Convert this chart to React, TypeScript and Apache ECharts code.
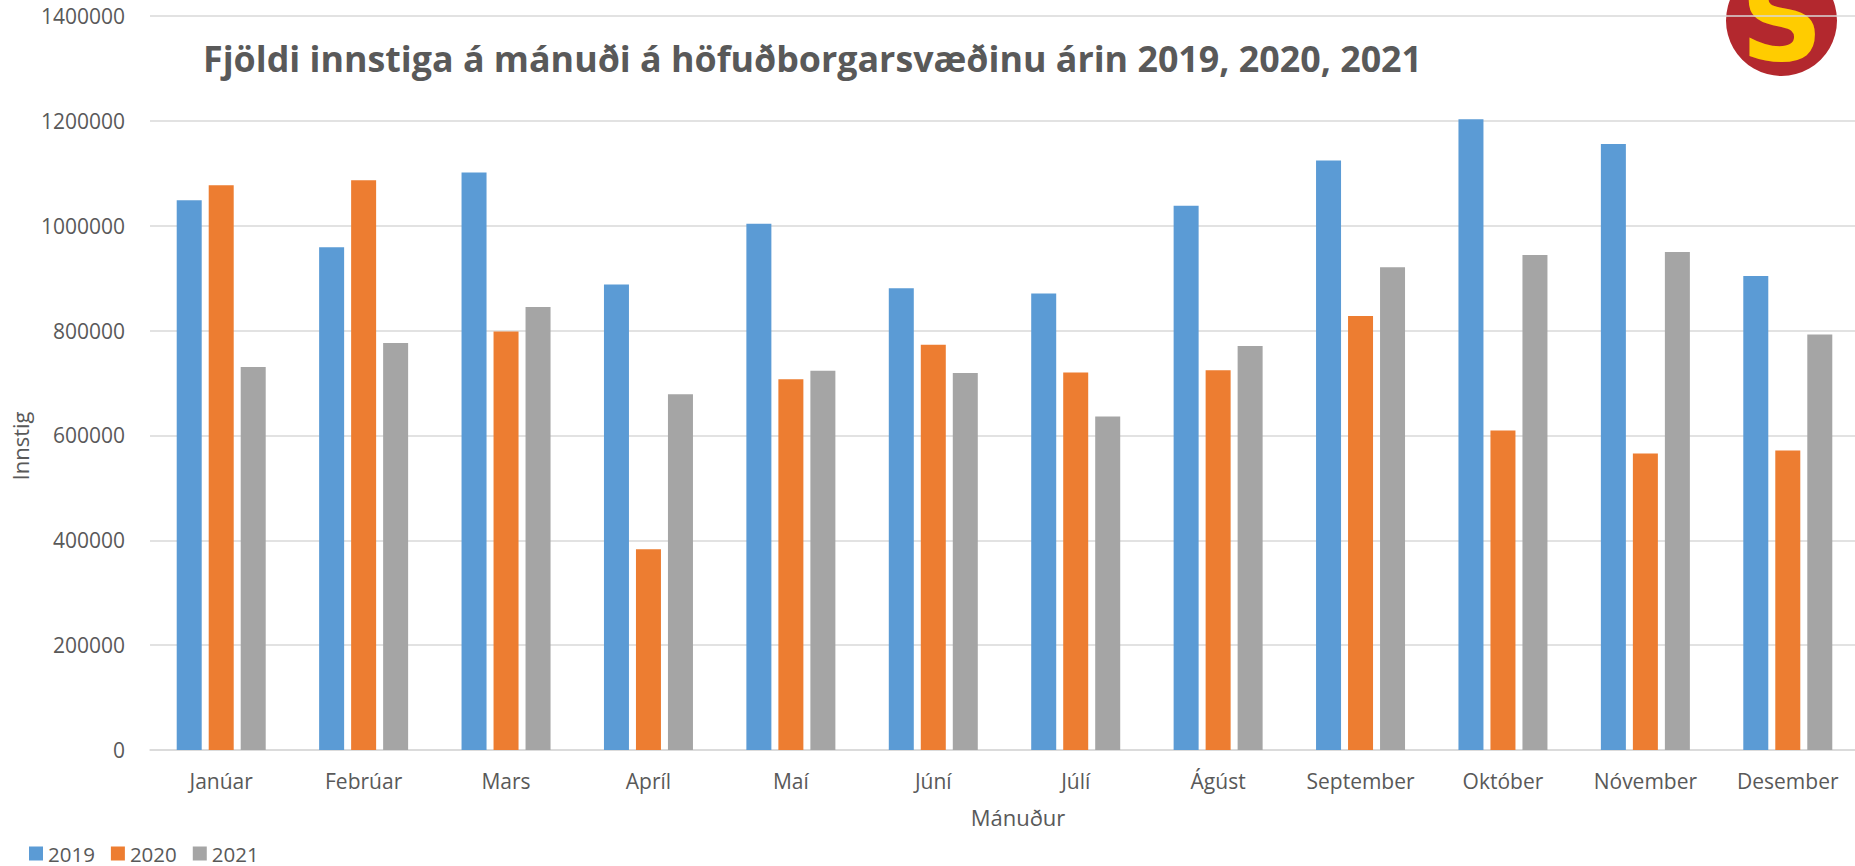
import React, { useEffect, useRef } from "react";
import * as echarts from "echarts";

const months = [
  "Janúar", "Febrúar", "Mars", "Apríl", "Maí", "Júní",
  "Júlí", "Ágúst", "September", "Október", "Nóvember", "Desember",
];
const seriesNames = ["2019", "2020", "2021"];
const values2019 = [1048500, 958900, 1101400, 888000, 1003700, 880700, 870900, 1037900, 1124200, 1203300, 1156000, 904300];
const values2020 = [1077000, 1086800, 798400, 382900, 707100, 773100, 720200, 724200, 827700, 609400, 565400, 571100];
const values2021 = [730700, 776400, 844800, 678600, 723400, 719300, 636300, 770700, 920600, 944200, 949900, 792700];
const colors = ["#5B9BD5", "#ED7D31", "#A5A5A5"];

const titleText = "Fjöldi innstiga á mánuði á höfuðborgarsvæðinu árin 2019, 2020, 2021";
const xName = "Mánuður";
const yName = "Innstig";

const FONT = "'Open Sans', 'Noto Sans', sans-serif";
const TEXT = "#595959";
const GRIDC = "#D9D9D9";

export default function App() {
  const ref = useRef<HTMLDivElement>(null);
  useEffect(() => {
    if (!ref.current) return;
    const chart = echarts.init(ref.current, undefined, { renderer: "svg" });
    const allValues = [values2019, values2020, values2021];
    chart.setOption({
      animation: false,
      backgroundColor: "#ffffff",
      textStyle: { fontFamily: FONT },
      grid: {
        left: 150,
        right: -4,
        top: 16,
        bottom: 116,
        containLabel: false,
        outerBoundsMode: "none",
      },
      legend: {
        data: seriesNames,
        left: 29,
        top: 843,
        padding: 0,
        itemWidth: 14,
        itemHeight: 14,
        itemGap: 16,
        icon: "rect",
        textStyle: { color: TEXT, fontSize: 20.5, lineHeight: 17, fontFamily: FONT },
      },
      xAxis: {
        type: "category",
        data: months,
        axisLine: { lineStyle: { color: GRIDC, width: 1.5 } },
        axisTick: { show: false },
        axisLabel: { color: TEXT, fontSize: 21, fontFamily: FONT, margin: 20 },
      },
      yAxis: {
        type: "value",
        min: 0,
        max: 1400000,
        interval: 200000,
        axisLine: { show: false },
        axisTick: { show: false },
        splitLine: { lineStyle: { color: GRIDC, width: 1.5 } },
        axisLabel: {
          color: TEXT,
          fontSize: 21,
          fontFamily: FONT,
          margin: 25,
          formatter: (v: number) => String(v),
        },
      },
      graphic: [
        {
          type: "circle",
          z: -10,
          shape: { cx: 1781.5, cy: 20.5, r: 55.5 },
          style: { fill: "#B3282E" },
        },
        {
          type: "text",
          z: -9,
          x: 1782,
          y: 20,
          style: {
            text: "S",
            fill: "#FFCC00",
            font: "bold 115px 'DejaVu Sans', sans-serif",
            align: "center",
            verticalAlign: "middle",
          },
        },
        {
          type: "text",
          x: 203,
          y: 58,
          style: {
            text: titleText,
            fill: TEXT,
            font: `bold 35.8px ${FONT}`,
            align: "left",
            verticalAlign: "middle",
          },
        },
        {
          type: "text",
          x: 1018,
          y: 817,
          style: {
            text: xName,
            fill: TEXT,
            font: `22px ${FONT}`,
            align: "center",
            verticalAlign: "middle",
          },
        },
        {
          type: "text",
          x: 20,
          y: 446,
          rotation: Math.PI / 2,
          style: {
            text: yName,
            fill: TEXT,
            font: `22px ${FONT}`,
            align: "center",
            verticalAlign: "middle",
          },
        },
      ],
      series: seriesNames.map((name, i) => ({
        name,
        type: "bar",
        data: allValues[i],
        barWidth: 25,
        barGap: "28%",
        itemStyle: { color: colors[i] },
      })),
    });
    return () => chart.dispose();
  }, []);
  return (
    <div
      ref={ref}
      style={{ position: "fixed", left: 0, top: 0, width: 1855, height: 866 }}
    />
  );
}
